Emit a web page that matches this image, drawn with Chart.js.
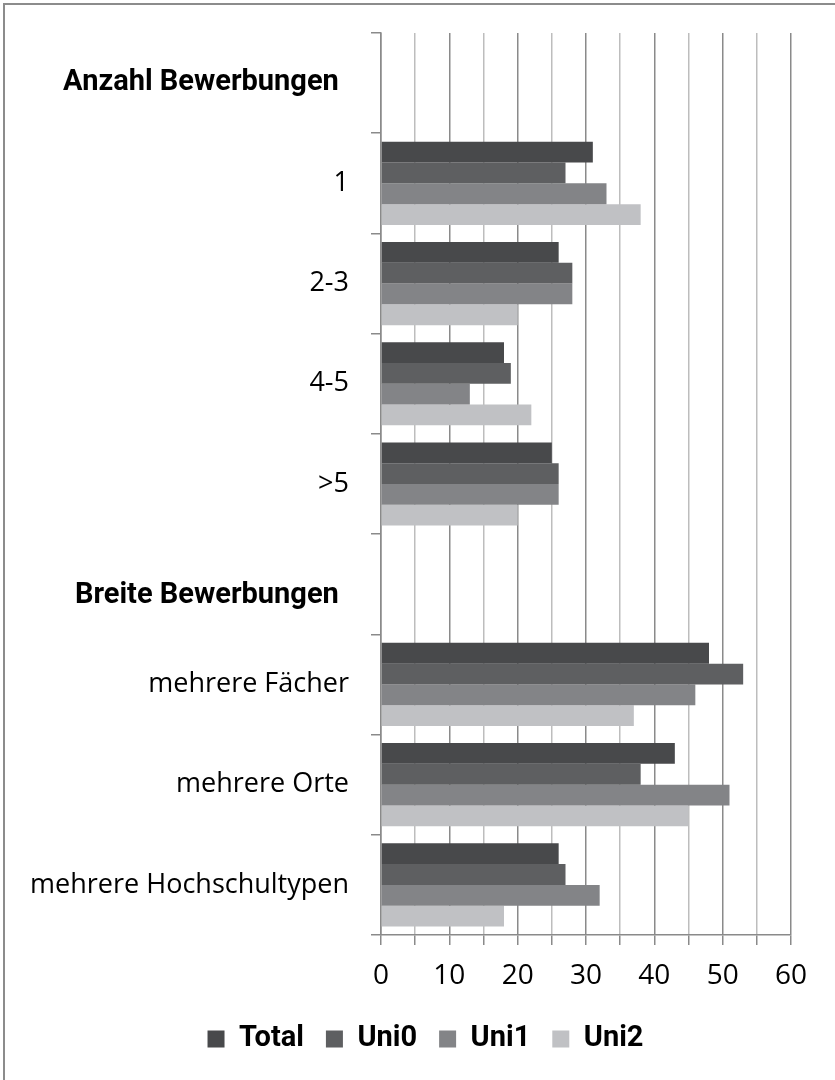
<!DOCTYPE html>
<html lang="de">
<head>
    <meta charset="UTF-8">
    <title>Bewerbungen</title>
    <script src="https://cdn.jsdelivr.net/npm/chart.js"></script>
    <style>
        html, body {
            margin: 0;
            padding: 0;
            background: #fff;
            overflow: hidden;
        }
        .frame {
            position: absolute;
            left: 3px;
            top: 3px;
            width: 900px;
            height: 1200px;
            border-left: 2px solid #8c8c8c;
            border-top: 2px solid #8c8c8c;
        }
        .chart-box {
            position: absolute;
            left: 0;
            top: 0;
            width: 835px;
            height: 1080px;
        }
    </style>
</head>
<body>
    <div class="frame"></div>
    <div class="chart-box">
        <canvas id="bewerbungChart" width="835" height="1080"></canvas>
    </div>

    <script>
        // categories (section headers have no bars)
        const categories = [
            'Anzahl Bewerbungen \u200A',
            '1',
            '2-3',
            '4-5',
            '>5',
            ['', 'Breite Bewerbungen \u200A'],
            'mehrere Fächer',
            'mehrere Orte',
            'mehrere Hochschultypen'
        ];
        const headerRows = [0, 5];

        const totalValues = [null, 31, 26, 18, 25, null, 48, 43, 26];
        const uni0Values  = [null, 27, 28, 19, 26, null, 53, 38, 27];
        const uni1Values  = [null, 33, 28, 13, 26, null, 46, 51, 32];
        const uni2Values  = [null, 38, 20, 22, 20, null, 37, 45, 18];

        const xTicks = [0, 10, 20, 30, 40, 50, 60];

        Chart.defaults.font.family = '"Open Sans", "Noto Sans", sans-serif';
        Chart.defaults.color = '#000';

        const axisGray = '#8a8a8a';
        const lightGray = '#bdbdbd';
        const boldFont = 'Roboto, "Open Sans", sans-serif';

        // nudge the legend so it sits centred under the plot instead of the whole canvas
        const legendShift = {
            id: 'legendShift',
            afterLayout(chart) {
                if (chart.legend) {
                    chart.legend.left += 30;
                    chart.legend.right += 30;
                }
            }
        };

        new Chart(document.getElementById('bewerbungChart'), {
            type: 'bar',
            data: {
                labels: categories,
                datasets: [
                    { label: 'Total', data: totalValues, backgroundColor: '#48494b' },
                    { label: 'Uni0',  data: uni0Values,  backgroundColor: '#5e5f61' },
                    { label: 'Uni1',  data: uni1Values,  backgroundColor: '#838487' },
                    { label: 'Uni2',  data: uni2Values,  backgroundColor: '#c0c1c4' }
                ]
            },
            options: {
                indexAxis: 'y',
                responsive: false,
                animation: false,
                categoryPercentage: 0.83,
                barPercentage: 1.0,
                layout: { padding: { top: 33, left: 0, right: 44, bottom: 16.5 } },
                plugins: {
                    tooltip: { enabled: false },
                    legend: {
                        position: 'bottom',
                        labels: {
                            boxWidth: 17,
                            boxHeight: 17,
                            padding: 22,
                            color: '#000',
                            font: { family: boldFont, size: 29, weight: 'bold' }
                        }
                    }
                },
                scales: {
                    x: {
                        min: 0,
                        max: 60,
                        afterFit: s => { s.height = 67.5; },
                        ticks: {
                            stepSize: 5,
                            padding: 14,
                            maxRotation: 0,
                            minRotation: 0,
                            autoSkip: false,
                            font: { size: 28 },
                            callback: v => xTicks.includes(v) ? v : ''
                        },
                        grid: {
                            color: ctx => (ctx.tick && ctx.tick.value % 10 === 0) ? axisGray : lightGray,
                            tickColor: axisGray,
                            lineWidth: 1.5,
                            tickLength: 10
                        },
                        border: { color: axisGray, width: 1.5 }
                    },
                    y: {
                        afterFit: s => {
                            s.width = 381;
                            s.paddingTop = 0;
                            s.paddingBottom = 0;
                        },
                        ticks: {
                            autoSkip: false,
                            padding: 22,
                            font: ctx => headerRows.includes(ctx.index)
                                ? { family: boldFont, size: 29, weight: 'bold', lineHeight: 0.8 }
                                : { size: 27 }
                        },
                        grid: {
                            drawOnChartArea: false,
                            drawTicks: true,
                            tickLength: 10,
                            color: axisGray,
                            lineWidth: 1.5
                        },
                        border: { color: axisGray, width: 1.5 }
                    }
                }
            },
            plugins: [legendShift]
        });
    </script>
</body>
</html>
